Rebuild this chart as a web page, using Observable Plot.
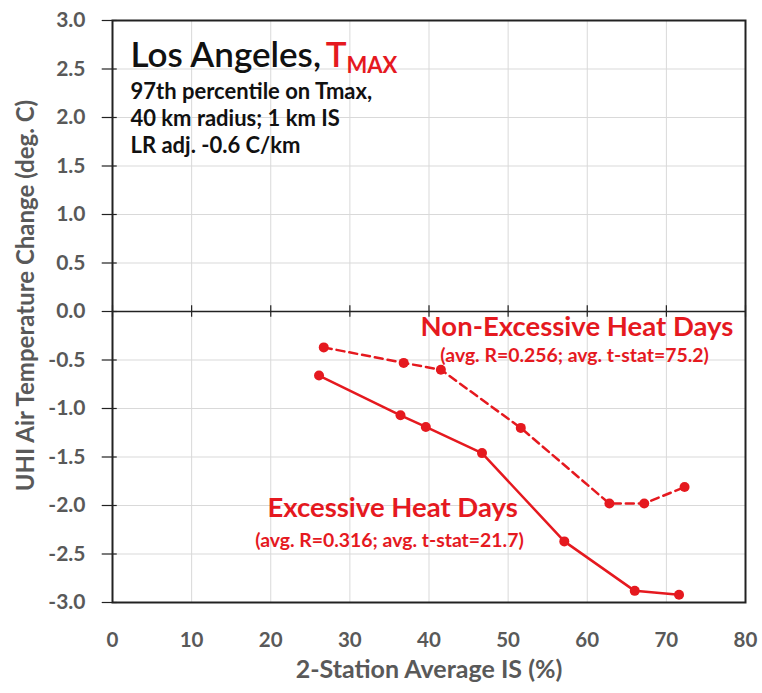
<!DOCTYPE html>
<html>
<head>
<meta charset="utf-8">
<script src="https://cdn.jsdelivr.net/npm/d3@7"></script>
<script src="https://cdn.jsdelivr.net/npm/@observablehq/plot@0.6"></script>
<style>
  body { margin: 0; background: #fff; }
  svg { font-family: Lato, "Open Sans", sans-serif; }
</style>
</head>
<body>
<div id="chart"></div>
<script>
// ---- data ----
const xTicks = [0, 10, 20, 30, 40, 50, 60, 70, 80];
const yTicks = [-3, -2.5, -2, -1.5, -1, -0.5, 0, 0.5, 1, 1.5, 2, 2.5, 3];

const nonExcessiveIS   = [26.7, 36.8, 41.5, 51.6, 62.8, 67.2, 72.3];
const nonExcessiveTemp = [-0.37, -0.53, -0.60, -1.20, -1.98, -1.98, -1.81];

const excessiveIS   = [26.1, 36.4, 39.6, 46.7, 57.1, 66.0, 71.6];
const excessiveTemp = [-0.66, -1.07, -1.19, -1.46, -2.37, -2.88, -2.92];

const titleMain = "Los Angeles, ";
const titleVar = "T";
const titleSub = "MAX";
const noteLines = ["97th percentile on Tmax,", "40 km radius; 1 km IS", "LR adj. -0.6 C/km"];

const seriesLabels = ["Non-Excessive Heat Days", "Excessive Heat Days"];
const seriesStats = ["(avg. R=0.256; avg. t-stat=75.2)", "(avg. R=0.316; avg. t-stat=21.7)"];
const labelIS = [58.7, 35.4];
const labelTemp = [-0.16, -2.03];
const statIS = [58.4, 35.0];
const statTemp = [-0.46, -2.36];

const xTitle = "2-Station Average IS (%)";
const yTitle = "UHI Air Temperature Change (deg. C)";

// ---- tables ----
const nonExc = nonExcessiveIS.map((x, i) => ({x, y: nonExcessiveTemp[i]}));
const exc = excessiveIS.map((x, i) => ({x, y: excessiveTemp[i]}));
const labels = seriesLabels.map((t, i) => ({t, x: labelIS[i], y: labelTemp[i]}));
const stats = seriesStats.map((t, i) => ({t, x: statIS[i], y: statTemp[i]}));

const red = "#e5191f";
const gray = "#595959";

const chart = Plot.plot({
  width: 762,
  height: 693,
  marginLeft: 112,
  marginRight: 17,
  marginTop: 20,
  marginBottom: 91,
  style: {fontFamily: "Lato, 'Open Sans', sans-serif", background: "#fff"},
  x: {domain: [0, 80]},
  y: {domain: [-3, 3]},
  marks: [
    Plot.gridX(xTicks, {stroke: "#d9d9d9", strokeOpacity: 1}),
    Plot.gridY(yTicks, {stroke: "#d9d9d9", strokeOpacity: 1}),
    Plot.axisY(yTicks, {
      tickFormat: d => d.toFixed(1),
      tickSize: 0,
      tickPadding: 27,
      fontSize: 21,
      fontWeight: "bold",
      fill: gray,
      label: null
    }),
    Plot.ruleY(yTicks, {y: d => d, x1: -1.3, x2: 0.6, stroke: "#222", strokeWidth: 1.2}),
    Plot.text([yTitle], {
      frameAnchor: "left", rotate: -90, dx: -86, dy: -16, text: d => d,
      fontSize: 24, fontWeight: "bold", fill: gray, textAnchor: "middle", lineAnchor: "middle"
    }),
    Plot.axisX(xTicks, {
      tickSize: 0,
      tickPadding: 30,
      fontSize: 20.5,
      fontWeight: "bold",
      fill: gray,
      label: xTitle,
      labelAnchor: "center",
      labelOffset: 75,
      labelArrow: "none"
    }),
    Plot.ruleX(xTicks, {x: d => d, y1: -0.06, y2: 0.06, stroke: "#222", strokeWidth: 1.2}),
    Plot.ruleY([0], {stroke: "#222", strokeWidth: 1.5}),
    Plot.frame({stroke: "#222", strokeWidth: 2}),
    Plot.line(nonExc, {x: "x", y: "y", stroke: red, strokeWidth: 2.5, strokeDasharray: "8,5"}),
    Plot.dot(nonExc, {x: "x", y: "y", r: 5, fill: red}),
    Plot.line(exc, {x: "x", y: "y", stroke: red, strokeWidth: 2.5}),
    Plot.dot(exc, {x: "x", y: "y", r: 5, fill: red}),
    Plot.text(labels, {x: "x", y: "y", text: "t", fill: red, fontSize: 27.5, fontWeight: "bold", textAnchor: "middle", lineAnchor: "middle"}),
    Plot.text(stats, {x: "x", y: "y", text: "t", fill: red, fontSize: 19.4, fontWeight: "bold", textAnchor: "middle", lineAnchor: "middle"}),
    Plot.text([titleMain], {frameAnchor: "top-left", dx: 18, dy: 22, text: d => d, fontSize: 35, fontWeight: 600, fill: "#111", textAnchor: "start", lineAnchor: "top"}),
    Plot.text([noteLines.join("\n")], {frameAnchor: "top-left", dx: 18, dy: 59, text: d => d, fontSize: 22, fontWeight: "bold", fill: "#111", textAnchor: "start", lineAnchor: "top", lineHeight: 1.24})
  ]
});

document.getElementById("chart").appendChild(chart);

// add coloured T with subscript MAX to the title
d3.select(chart).selectAll("text").filter(function() { return this.textContent === titleMain; })
  .each(function() {
    const t = d3.select(this);
    t.attr("xml:space", "preserve").style("white-space", "pre");
    t.append("tspan").attr("fill", red).attr("dx", -3).text(titleVar);
    t.append("tspan").attr("fill", red).attr("font-size", 22).attr("font-weight", "bold").attr("dy", 6).text(titleSub);
  });
// x-axis title font size
d3.select(chart).selectAll("text").filter(function() { return this.textContent === xTitle; })
  .attr("font-size", 25).attr("font-weight", "bold").attr("fill", gray);
</script>
</body>
</html>
